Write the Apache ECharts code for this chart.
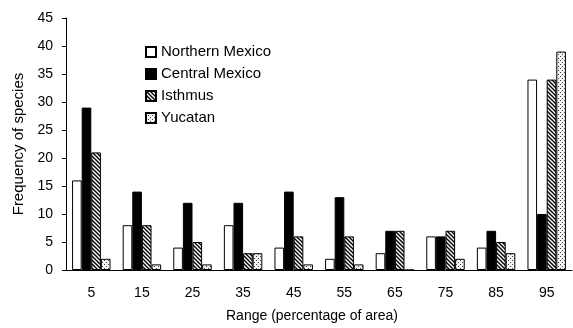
<!DOCTYPE html>
<html>
<head>
<meta charset="utf-8">
<script src="https://cdn.jsdelivr.net/npm/echarts@6/dist/echarts.min.js"></script>
<style>
  html, body { margin: 0; padding: 0; background: #fff; }
  #chart { width: 573px; height: 328px; }
</style>
</head>
<body>
<div id="chart"></div>
<script>
// Range classes (percentage of area) and species frequencies per region
const categories = ['5', '15', '25', '35', '45', '55', '65', '75', '85', '95'];
const northernMexico = [16, 8, 4, 8, 4, 2, 3, 6, 4, 34];
const centralMexico  = [29, 14, 12, 12, 14, 13, 7, 6, 7, 10];
const isthmus        = [21, 8, 5, 3, 6, 6, 7, 7, 5, 34];
const yucatan        = [2, 1, 1, 3, 1, 1, 0, 2, 3, 39];
const yTicks = { min: 0, max: 45, interval: 5 };

// Diagonal hatch fill
function hatchPattern() {
  const c = document.createElement('canvas');
  c.width = 4; c.height = 4;
  const g = c.getContext('2d');
  g.fillStyle = '#fff';
  g.fillRect(0, 0, 4, 4);
  g.strokeStyle = '#000';
  g.lineWidth = 1.4;
  g.beginPath();
  g.moveTo(-1, -1); g.lineTo(5, 5);
  g.moveTo(-3, 1); g.lineTo(1, 5);
  g.moveTo(3, -1); g.lineTo(5, 1);
  g.stroke();
  return { image: c, repeat: 'repeat' };
}

// Sparse stipple fill
function dotPattern() {
  const c = document.createElement('canvas');
  c.width = 4; c.height = 4;
  const g = c.getContext('2d');
  g.fillStyle = '#f2f2f2';
  g.fillRect(0, 0, 4, 4);
  g.fillStyle = '#444';
  g.fillRect(0, 0, 1, 1);
  g.fillRect(2, 2, 1, 1);
  return { image: c, repeat: 'repeat' };
}

const font = 'Liberation Sans, Arial, sans-serif';
const border = { borderColor: '#000', borderWidth: 1 };

function barSeries(name, data, color) {
  return {
    name: name,
    type: 'bar',
    data: data,
    barGap: '0%',
    barCategoryGap: '24%',
    itemStyle: Object.assign({ color: color }, border)
  };
}

const chart = echarts.init(document.getElementById('chart'), null, { renderer: 'canvas' });
chart.setOption({
  animation: false,
  backgroundColor: '#fff',
  grid: { left: 66, right: 1, top: 18, bottom: 58, containLabel: false },
  legend: {
    orient: 'vertical',
    left: 145,
    top: 44,
    padding: 0,
    itemWidth: 10,
    itemHeight: 10,
    itemGap: 6,
    icon: 'rect',
    textStyle: { fontFamily: font, fontSize: 15, lineHeight: 16, color: '#000' },
    data: ['Northern Mexico', 'Central Mexico', 'Isthmus', 'Yucatan']
  },
  xAxis: {
    type: 'category',
    data: categories,
    name: 'Range (percentage of area)',
    nameLocation: 'middle',
    nameGap: 39,
    nameTextStyle: { fontFamily: font, fontSize: 14, color: '#000', padding: [0, 14, 0, 0] },
    axisLine: { lineStyle: { color: '#000', width: 1 } },
    axisTick: { inside: true, length: 5, interval: 0, lineStyle: { color: '#000' } },
    axisLabel: { fontFamily: font, fontSize: 14, color: '#000', margin: 16, interval: 0 },
    splitLine: { show: false }
  },
  yAxis: {
    type: 'value',
    min: yTicks.min,
    max: yTicks.max,
    interval: yTicks.interval,
    name: 'Frequency of species',
    nameLocation: 'middle',
    nameGap: 37,
    nameTextStyle: { fontFamily: font, fontSize: 15, color: '#000' },
    axisLine: { show: true, lineStyle: { color: '#000', width: 1 } },
    axisTick: { show: true, length: 4, lineStyle: { color: '#000' } },
    axisLabel: { fontFamily: font, fontSize: 14, color: '#000', margin: 13 },
    splitLine: { show: false }
  },
  series: [
    barSeries('Northern Mexico', northernMexico, '#fff'),
    barSeries('Central Mexico', centralMexico, '#000'),
    barSeries('Isthmus', isthmus, hatchPattern()),
    barSeries('Yucatan', yucatan, dotPattern())
  ]
});
</script>
</body>
</html>
